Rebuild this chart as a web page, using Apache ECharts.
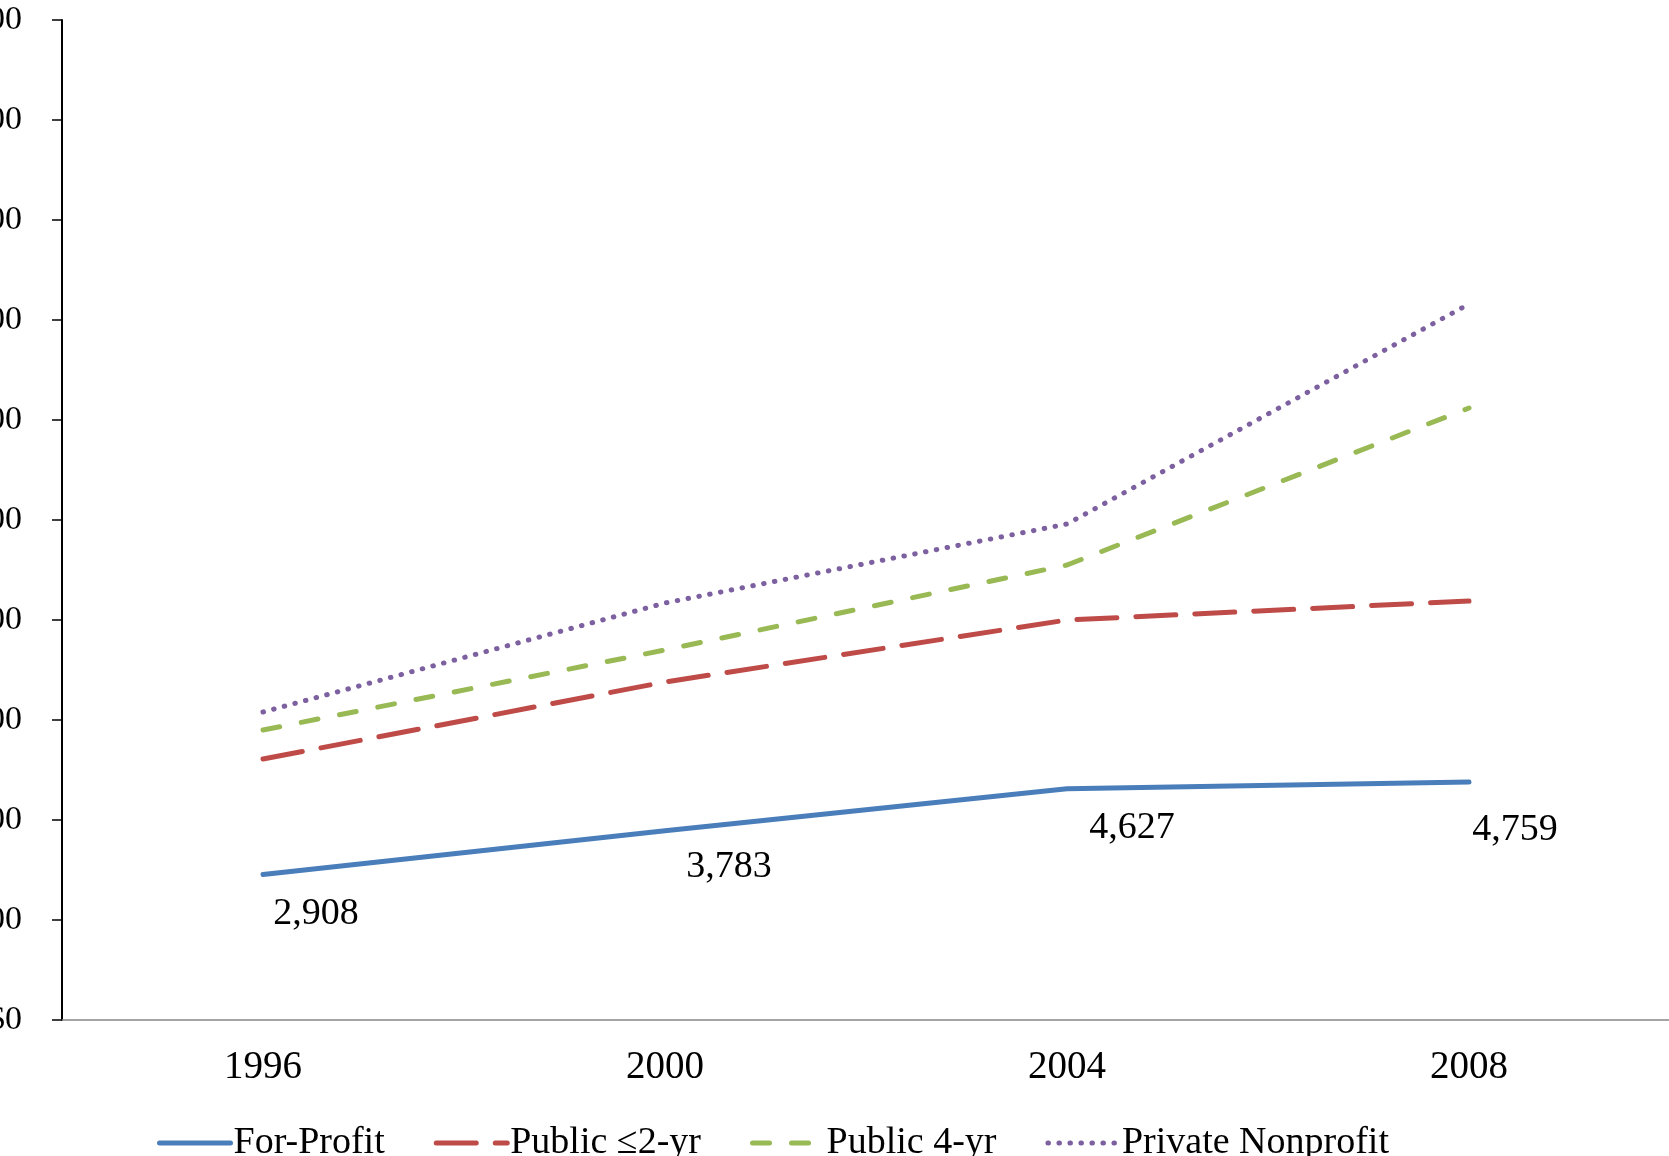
<!DOCTYPE html>
<html>
<head>
<meta charset="utf-8">
<script src="https://cdn.jsdelivr.net/npm/echarts@6/dist/echarts.min.js"></script>
<style>
html,body{margin:0;padding:0;background:#fff;}
#chart{width:1669px;height:1156px;}
</style>
</head>
<body>
<div id="chart"></div>
<script>
const years = ['1996', '2000', '2004', '2008'];
const forProfit = [2908, 3783, 4627, 4759];
const public2yr = [5220, 6760, 8000, 8380];
const public4yr = [5800, 7400, 9100, 12240];
const privateNonprofit = [6160, 8340, 9920, 14320];
const seriesNames = ['For-Profit', 'Public \u22642-yr', 'Public 4-yr', 'Private Nonprofit'];
const yTickValues = [0, 2000, 4000, 6000, 8000, 10000, 12000, 14000, 16000, 18000, 20000];

const FONT = '"Liberation Serif", "Times New Roman", serif';
const labelOffsets = [[53, 39], [64, 36], [65, 39], [46, 48]];

const chart = echarts.init(document.getElementById('chart'), null, {renderer: 'canvas'});

function fmt(v) {
  return '$' + v.toLocaleString('en-US');
}

const option = {
  animation: false,
  backgroundColor: '#ffffff',
  textStyle: {fontFamily: FONT},
  grid: {left: 62, top: 20, width: 1608, height: 1000, containLabel: false, outerBoundsMode: 'none'},
  legend: {
    left: 152,
    top: 1119,
    itemWidth: 71,
    itemHeight: 38,
    itemGap: 49,
    itemStyle: {color: 'rgba(0,0,0,0)', borderWidth: 0, opacity: 0},
    lineStyle: {width: 5, cap: 'round'},
    textStyle: {fontFamily: FONT, fontSize: 38, color: '#000', padding: [0, 0, 0, -2]},
    data: seriesNames
  },
  xAxis: {
    type: 'category',
    data: years,
    boundaryGap: true,
    axisLine: {lineStyle: {color: '#868686', width: 1.5}},
    axisTick: {show: false},
    axisLabel: {fontFamily: FONT, fontSize: 39, color: '#000', margin: 28}
  },
  yAxis: {
    type: 'value',
    min: yTickValues[0],
    max: yTickValues[yTickValues.length - 1],
    interval: yTickValues[1] - yTickValues[0],
    splitLine: {show: false},
    axisLine: {show: true, lineStyle: {color: '#000', width: 2}},
    axisTick: {show: true, inside: false, length: 10, lineStyle: {color: '#000', width: 1.5}},
    axisLabel: {fontFamily: FONT, fontSize: 34, color: '#000', margin: 40, formatter: fmt}
  },
  series: [
    {
      name: seriesNames[0],
      type: 'line',
      data: forProfit.map((v, i) => ({
        value: v,
        label: {show: true, offset: labelOffsets[i]}
      })),
      symbol: 'circle',
      symbolSize: 2,
      showSymbol: true,
      lineStyle: {color: '#4A7EBB', width: 5, cap: 'round'},
      itemStyle: {color: '#4A7EBB'},
      label: {
        show: true,
        position: 'inside',
        fontFamily: FONT,
        fontSize: 38,
        color: '#000',
        formatter: p => p.value.toLocaleString('en-US')
      }
    },
    {
      name: seriesNames[1],
      type: 'line',
      data: public2yr,
      symbol: 'none',
      lineStyle: {color: '#BE4B48', width: 5, type: [40, 19], cap: 'round'},
      itemStyle: {color: '#BE4B48'}
    },
    {
      name: seriesNames[2],
      type: 'line',
      data: public4yr,
      symbol: 'none',
      lineStyle: {color: '#98B954', width: 5, type: [17, 22], cap: 'round'},
      itemStyle: {color: '#98B954'}
    },
    {
      name: seriesNames[3],
      type: 'line',
      data: privateNonprofit,
      symbol: 'none',
      lineStyle: {color: '#7D60A0', width: 5, type: [0.5, 10.5], cap: 'round'},
      itemStyle: {color: '#7D60A0'}
    }
  ]
};
chart.setOption(option);
</script>
</body>
</html>
